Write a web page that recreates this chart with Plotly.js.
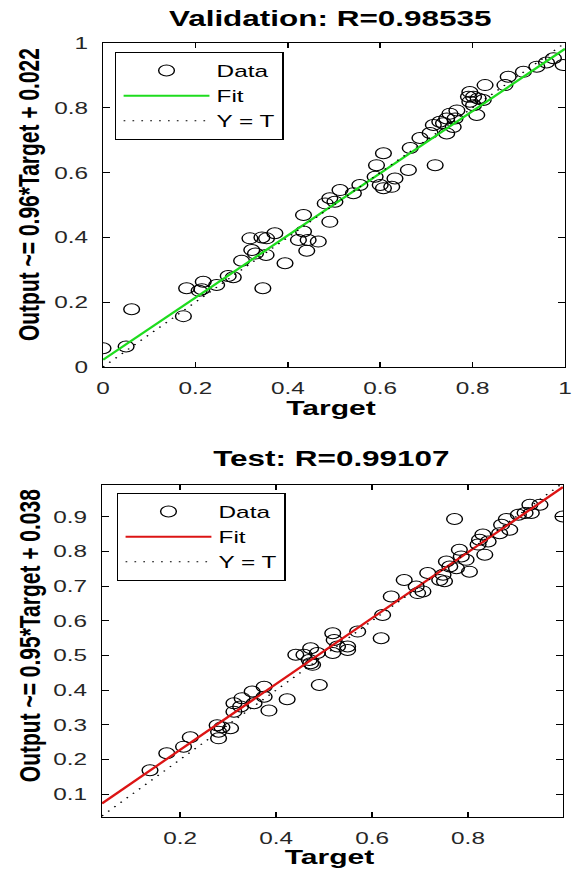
<!DOCTYPE html>
<html>
<head>
<meta charset="utf-8">
<script src="https://cdn.plot.ly/plotly-3.0.1.min.js"></script>
<style>
html,body{margin:0;padding:0;background:#fff;overflow:hidden}
#wrap{width:578px;height:874px;overflow:hidden}
#plot{width:404px;height:874px;transform:scaleX(1.430693);transform-origin:0 0}
</style>
</head>
<body>
<div id="wrap"><div id="plot"></div></div>
<script>
// Validation set (Target, Output)
var valTarget = [0.000,0.050,0.062,0.174,0.181,0.208,0.214,0.217,0.246,0.271,0.282,0.300,0.318,0.322,0.330,0.344,0.354,0.353,0.346,0.372,0.394,0.434,0.434,0.423,0.444,0.466,0.441,0.491,0.481,0.491,0.502,0.513,0.542,0.556,0.589,0.600,0.625,0.632,0.661,0.592,0.607,0.607,0.665,0.686,0.708,0.719,0.715,0.729,0.744,0.751,0.766,0.758,0.744,0.737,0.762,0.794,0.802,0.812,0.794,0.823,0.802,0.809,0.791,0.827,0.870,0.877,0.910,0.939,0.975,0.996,0.960];
var valOutput = [0.058,0.063,0.178,0.157,0.243,0.235,0.240,0.263,0.253,0.281,0.277,0.328,0.397,0.361,0.350,0.400,0.397,0.346,0.243,0.413,0.320,0.469,0.418,0.392,0.392,0.387,0.359,0.448,0.505,0.521,0.510,0.546,0.536,0.562,0.587,0.562,0.556,0.582,0.608,0.623,0.660,0.552,0.676,0.707,0.722,0.623,0.747,0.757,0.767,0.782,0.792,0.741,0.721,0.752,0.767,0.849,0.834,0.829,0.819,0.824,0.808,0.778,0.834,0.870,0.870,0.896,0.911,0.927,0.953,0.932,0.940];
var valSlope = 0.96, valIntercept = 0.022, valR = "0.98535";
var valRange = [0, 1];

// Test set (Target, Output)
var testTarget = [0.998,0.772,0.950,0.929,0.932,0.905,0.919,0.880,0.870,0.866,0.887,0.831,0.824,0.842,0.821,0.835,0.782,0.786,0.796,0.755,0.762,0.776,0.803,0.748,0.716,0.741,0.751,0.667,0.692,0.695,0.706,0.640,0.622,0.619,0.570,0.549,0.518,0.521,0.528,0.518,0.472,0.441,0.458,0.469,0.476,0.472,0.486,0.549,0.490,0.423,0.385,0.375,0.375,0.350,0.354,0.329,0.312,0.312,0.326,0.305,0.287,0.277,0.280,0.280,0.221,0.207,0.172,0.137];
var testOutput = [0.901,0.894,0.935,0.935,0.911,0.906,0.911,0.894,0.877,0.853,0.863,0.849,0.834,0.829,0.820,0.791,0.805,0.786,0.776,0.771,0.757,0.752,0.742,0.733,0.738,0.718,0.714,0.718,0.699,0.680,0.685,0.670,0.617,0.550,0.569,0.526,0.564,0.545,0.526,0.507,0.521,0.502,0.502,0.487,0.473,0.478,0.507,0.516,0.415,0.374,0.341,0.381,0.410,0.396,0.362,0.377,0.362,0.338,0.353,0.290,0.293,0.299,0.261,0.280,0.264,0.237,0.218,0.169];
var testSlope = 0.95, testIntercept = 0.038, testR = "0.99107";
var testXRange = [0.037, 0.998];
var testYRange = [0.034, 0.992];

var valTicks = [0, 0.2, 0.4, 0.6, 0.8, 1];
var valTickText = ["0", "0.2", "0.4", "0.6", "0.8", "1"];
var testXTicks = [0.2, 0.4, 0.6, 0.8];
var testXTickText = ["0.2", "0.4", "0.6", "0.8"];
var testYTicks = [0.1, 0.2, 0.3, 0.4, 0.5, 0.6, 0.7, 0.8, 0.9];
var testYTickText = ["0.1", "0.2", "0.3", "0.4", "0.5", "0.6", "0.7", "0.8", "0.9"];

var FONT = "Liberation Sans, Arial, Helvetica, sans-serif";

function fitY(xs, m, b) { return xs.map(function (x) { return m * x + b; }); }

var traces = [
  {x: valTarget, y: valOutput, mode: "markers", name: "Data", xaxis: "x", yaxis: "y", legend: "legend",
   marker: {symbol: "circle-open", size: 11, color: "black", line: {width: 1, color: "black"}}},
  {x: valRange, y: fitY(valRange, valSlope, valIntercept), mode: "lines", name: "Fit", xaxis: "x", yaxis: "y", legend: "legend",
   line: {color: "rgb(30,220,30)", width: 2}},
  {x: valRange, y: valRange, mode: "lines", name: "Y = T", xaxis: "x", yaxis: "y", legend: "legend",
   line: {color: "black", width: 1.2, dash: "1.2px,5px"}},
  {x: testTarget, y: testOutput, mode: "markers", name: "Data", xaxis: "x2", yaxis: "y2", legend: "legend2",
   marker: {symbol: "circle-open", size: 11, color: "black", line: {width: 1, color: "black"}}},
  {x: testXRange, y: fitY(testXRange, testSlope, testIntercept), mode: "lines", name: "Fit", xaxis: "x2", yaxis: "y2", legend: "legend2",
   line: {color: "rgb(220,20,20)", width: 2}},
  {x: testXRange, y: testXRange, mode: "lines", name: "Y = T", xaxis: "x2", yaxis: "y2", legend: "legend2",
   line: {color: "black", width: 1.2, dash: "1.2px,5px"}}
];

function axisBase(extra) {
  var a = {
    ticks: "inside", ticklen: 5, tickwidth: 1, tickcolor: "black",
    showline: true, linecolor: "black", linewidth: 1, mirror: "ticks",
    zeroline: false, showgrid: false, fixedrange: true,
    tickfont: {family: FONT, size: 17, color: "#262626"},
    ticklabelstandoff: 6
  };
  for (var k in extra) a[k] = extra[k];
  return a;
}

var legendBase = {
  bgcolor: "white", bordercolor: "black", borderwidth: 1,
  font: {family: FONT, size: 17, color: "black"},
  xanchor: "left", yanchor: "top", itemwidth: 60, tracegroupgap: 0
};
var legend1 = Object.assign({}, legendBase, {x: 0.199, y: 0.9405});
var legend2 = Object.assign({}, legendBase, {x: 0.2024, y: 0.4359});

var titleFont = {family: FONT, size: 22, color: "black", weight: "bold"};
var axTitleFont = {family: FONT, size: 21, color: "black", weight: "bold"};

var layout = {
  width: 404, height: 874,
  margin: {l: 0, r: 0, t: 0, b: 0},
  paper_bgcolor: "white", plot_bgcolor: "white",
  showlegend: true,
  legend: legend1,
  legend2: legend2,
  xaxis: axisBase({domain: [0.1782, 0.9775], range: valRange, anchor: "y", tickvals: valTicks, ticktext: valTickText}),
  yaxis: axisBase({domain: [0.5801, 0.9508], range: valRange, anchor: "x", tickvals: valTicks, ticktext: valTickText}),
  xaxis2: axisBase({domain: [0.1765, 0.974], range: testXRange, anchor: "y2", tickvals: testXTicks, ticktext: testXTickText}),
  yaxis2: axisBase({domain: [0.0652, 0.4451], range: testYRange, anchor: "x2", tickvals: testYTicks, ticktext: testYTickText}),
  annotations: [
    {text: "Validation: R=" + valR, xref: "paper", yref: "paper", x: 0.571, y: 0.979, xanchor: "center", yanchor: "middle", showarrow: false, font: titleFont},
    {text: "Target", xref: "paper", yref: "paper", x: 0.574, y: 0.5343, xanchor: "center", yanchor: "middle", showarrow: false, font: axTitleFont},
    {text: "Output ~= " + valSlope + "*Target + " + valIntercept, xref: "paper", yref: "paper", x: 0.050, y: 0.777, xanchor: "center", yanchor: "middle", textangle: -90, showarrow: false, font: axTitleFont},
    {text: "Test: R=" + testR, xref: "paper", yref: "paper", x: 0.573, y: 0.475, xanchor: "center", yanchor: "middle", showarrow: false, font: titleFont},
    {text: "Target", xref: "paper", yref: "paper", x: 0.571, y: 0.0195, xanchor: "center", yanchor: "middle", showarrow: false, font: axTitleFont},
    {text: "Output ~= " + testSlope + "*Target + " + testIntercept, xref: "paper", yref: "paper", x: 0.050, y: 0.2723, xanchor: "center", yanchor: "middle", textangle: -90, showarrow: false, font: axTitleFont}
  ]
};

Plotly.newPlot("plot", traces, layout, {staticPlot: true, displayModeBar: false});
</script>
</body>
</html>
